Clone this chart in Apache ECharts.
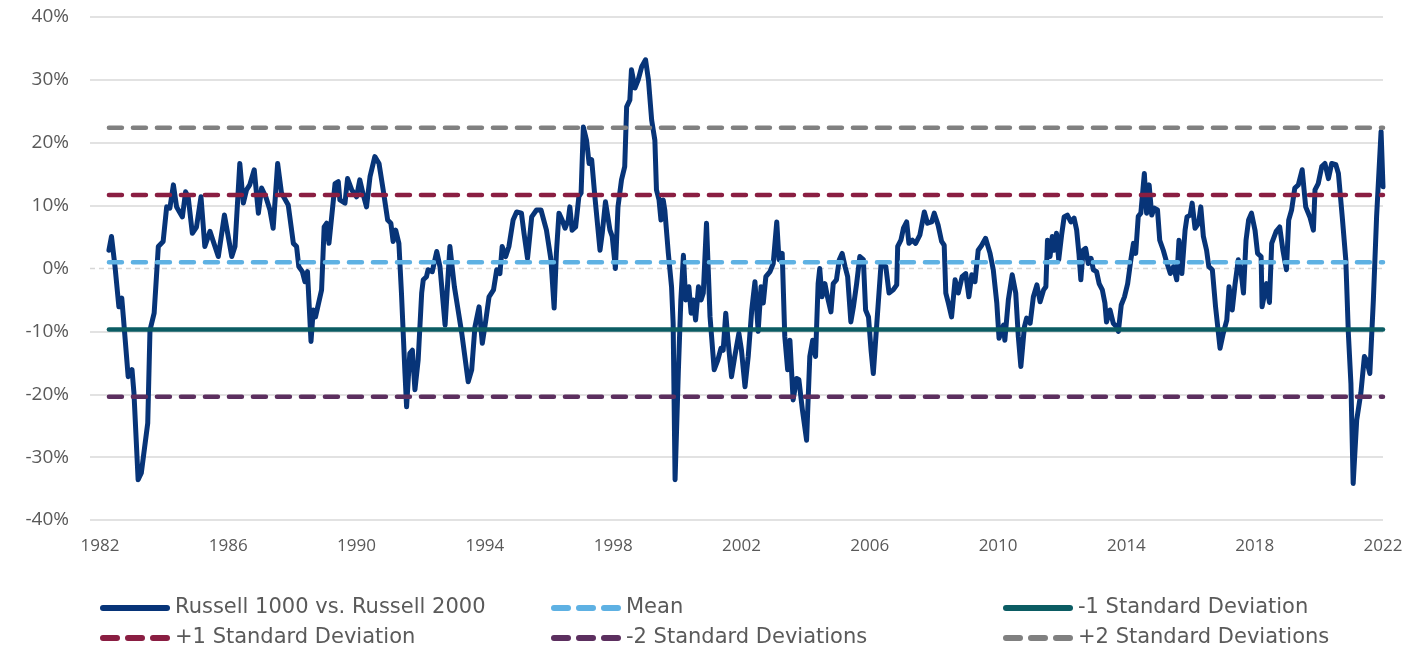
<!DOCTYPE html>
<html>
<head>
<meta charset="utf-8">
<script src="https://cdn.jsdelivr.net/npm/echarts@6/dist/echarts.min.js"></script>
<style>html,body{margin:0;padding:0;background:#fff}#c{width:1427px;height:649px}</style>
</head>
<body>
<div id="c"></div>
<script>
// Dates (decimal years) and relative performance values (%)
const dates = [
1982.28,1982.36,1982.47,1982.59,1982.68,1982.73,1982.88,1983.0,1983.06,1983.19,1983.29,1983.49,1983.56,1983.69,1983.82,1983.97,
1984.08,1984.18,1984.29,1984.39,1984.57,1984.67,1984.75,1984.88,1985.01,1985.15,1985.27,1985.43,1985.69,1985.88,
1986.11,1986.21,1986.36,1986.47,1986.57,1986.67,1986.81,1986.94,1987.04,1987.17,1987.3,1987.4,1987.54,1987.66,1987.87,
1988.03,1988.13,1988.2,1988.31,1988.39,1988.47,1988.58,1988.65,1988.72,1988.91,1988.99,1989.07,1989.14,1989.33,1989.43,1989.48,1989.64,1989.72,1989.85,
1990.0,1990.1,1990.21,1990.31,1990.42,1990.57,1990.7,1990.83,1990.97,1991.07,1991.14,1991.22,1991.32,1991.4,1991.51,1991.56,1991.66,1991.74,1991.82,1991.92,
1992.03,1992.08,1992.18,1992.23,1992.36,1992.5,1992.6,1992.76,1992.91,1993.05,1993.15,1993.28,1993.48,1993.59,1993.69,1993.82,1993.92,
1994.03,1994.13,1994.27,1994.37,1994.47,1994.54,1994.65,1994.75,1994.88,1994.99,1995.14,1995.22,1995.33,1995.46,1995.61,1995.75,1995.92,
1996.06,1996.16,1996.23,1996.31,1996.41,1996.5,1996.6,1996.65,1996.72,1996.83,1996.93,1997.0,1997.07,1997.17,1997.25,1997.33,1997.43,1997.59,1997.66,1997.76,1997.9,1997.97,
1998.07,1998.15,1998.26,1998.36,1998.42,1998.52,1998.57,1998.68,1998.78,1998.89,1999.01,1999.1,1999.2,1999.3,1999.35,1999.43,1999.49,1999.56,1999.61,1999.72,1999.82,1999.87,1999.93,
2000.03,2000.11,2000.19,2000.26,2000.36,2000.43,2000.5,2000.57,2000.66,2000.74,2000.81,2000.91,2001.02,2001.15,2001.26,2001.36,2001.43,2001.51,2001.58,2001.69,2001.79,2001.92,
2002.0,2002.11,2002.21,2002.32,2002.42,2002.52,2002.61,2002.68,2002.76,2002.89,2002.99,2003.1,2003.17,2003.27,2003.35,2003.44,2003.51,2003.61,2003.72,2003.79,2003.9,
2004.03,2004.13,2004.22,2004.31,2004.39,2004.44,2004.51,2004.6,2004.68,2004.79,2004.86,2004.96,2005.05,2005.14,2005.23,2005.31,2005.41,2005.49,2005.59,2005.69,2005.8,2005.87,2005.96,
2006.04,2006.11,2006.22,2006.35,2006.5,2006.6,2006.73,2006.84,2006.87,2006.97,2007.05,2007.15,2007.22,2007.33,2007.43,2007.56,2007.7,2007.8,2007.93,
2008.01,2008.13,2008.24,2008.32,2008.37,2008.45,2008.55,2008.66,2008.76,2008.88,2008.99,2009.09,2009.18,2009.28,2009.38,2009.49,2009.61,2009.75,2009.85,2009.96,
2010.03,2010.17,2010.21,2010.32,2010.44,2010.55,2010.63,2010.71,2010.82,2010.89,2011.0,2011.1,2011.21,2011.31,2011.42,2011.49,2011.54,2011.62,2011.69,2011.75,2011.82,2011.89,2011.98,
2012.06,2012.16,2012.27,2012.37,2012.45,2012.52,2012.58,2012.65,2012.73,2012.81,2012.9,2012.97,2013.07,2013.15,2013.25,2013.33,2013.38,2013.49,2013.59,2013.7,2013.75,2013.84,2013.94,
2014.04,2014.14,2014.22,2014.29,2014.37,2014.45,2014.56,2014.63,2014.71,2014.79,2014.87,2014.97,2015.04,2015.15,2015.25,2015.37,2015.47,2015.57,2015.64,2015.73,2015.83,2015.89,2015.99,
2016.05,2016.14,2016.25,2016.32,2016.4,2016.5,2016.57,2016.68,2016.78,2016.92,2017.02,2017.13,2017.2,2017.3,2017.39,2017.49,2017.58,2017.65,2017.73,2017.81,2017.9,
2018.01,2018.09,2018.2,2018.23,2018.37,2018.46,2018.53,2018.67,2018.78,2018.88,2018.99,2019.06,2019.15,2019.25,2019.36,2019.48,2019.59,2019.72,2019.83,2019.88,2019.98,
2020.09,2020.19,2020.3,2020.4,2020.53,2020.61,2020.73,2020.84,2020.92,2021.0,2021.07,2021.18,2021.31,2021.42,2021.49,2021.59,2021.7,2021.8,2021.94,2022.0
];
const values = [
2.9,5.1,0.3,-6.1,-4.7,-7.7,-17.2,-16.1,-19.8,-33.6,-32.5,-24.6,-9.8,-7.1,3.5,4.3,
9.8,9.6,13.3,9.8,8.2,12.2,11.4,5.6,6.6,11.4,3.5,5.9,1.9,8.5,
1.9,3.5,16.7,10.4,12.5,13.3,15.7,8.8,12.8,11.4,9.3,6.4,16.7,12.0,10.1,
4.0,3.5,0.3,-0.5,-2.1,-0.5,-11.6,-6.6,-7.7,-3.4,6.6,7.2,4.0,13.5,13.8,10.9,10.4,14.3,12.5,
11.4,14.1,11.7,9.8,14.6,17.8,16.7,12.5,7.7,7.2,4.3,6.1,4.0,-3.9,-16.7,-22.0,-13.5,-13.0,-19.3,-14.6,
-3.9,-1.8,-1.3,-0.2,-0.5,2.7,0.3,-9.0,3.5,-2.9,-6.1,-10.3,-18.0,-16.1,-9.3,-6.1,-11.9,
-8.2,-4.5,-3.4,-0.2,-0.8,3.5,1.9,3.5,7.7,9.0,8.8,5.6,1.6,8.2,9.3,9.3,6.1,
1.4,-6.3,2.4,8.8,7.7,6.4,7.7,9.8,6.1,6.6,11.4,12.0,22.5,20.4,16.7,17.3,11.4,2.9,5.6,10.6,6.1,5.1,
0.0,9.8,14.1,16.2,25.7,26.8,31.6,28.7,30.0,32.1,33.2,30.0,23.6,20.4,12.5,10.9,7.7,10.9,9.3,2.4,-2.9,-8.7,-33.6,
-16.7,-5.0,2.1,-5.0,-2.9,-7.1,-5.0,-8.2,-2.9,-5.0,-3.9,7.2,-7.7,-16.1,-14.6,-12.7,-13.0,-7.1,-11.4,-17.2,-14.0,-10.3,
-13.0,-18.8,-14.0,-6.6,-2.1,-10.0,-2.9,-5.5,-1.3,-0.5,0.8,7.4,1.4,2.4,-10.8,-16.1,-11.4,-20.9,-17.5,-17.7,-22.5,
-27.3,-14.0,-11.4,-14.0,-2.4,0.0,-4.5,-2.4,-4.5,-6.9,-2.4,-1.8,1.4,2.4,0.3,-1.3,-8.5,-6.1,-2.4,1.9,1.4,-6.6,-7.7,
-13.0,-16.7,-8.7,0.6,0.3,-3.9,-3.4,-2.6,3.5,4.5,6.4,7.4,4.0,4.5,4.0,5.3,9.0,7.2,7.4,
8.8,6.9,4.3,3.7,-3.9,-5.5,-7.7,-1.8,-3.9,-1.3,-0.8,-4.5,-1.0,-2.1,2.9,3.7,4.8,2.4,-0.2,-5.5,
-11.1,-9.0,-11.4,-5.0,-1.0,-3.9,-10.8,-15.6,-9.3,-7.9,-8.7,-4.5,-2.6,-5.3,-3.4,-2.9,4.5,1.9,5.1,2.9,5.6,1.4,5.3,
8.2,8.5,7.4,8.0,6.1,2.4,-1.8,2.9,3.2,0.8,1.6,-0.2,-0.5,-2.4,-3.4,-5.5,-8.5,-6.6,-8.7,-9.3,-10.0,-5.8,-4.5,
-2.4,1.4,4.0,2.4,8.3,8.8,15.1,8.8,13.3,8.5,9.6,9.3,4.5,2.9,1.1,-0.8,0.3,-1.8,4.5,-0.8,6.1,8.2,8.5,
10.4,6.4,7.2,9.8,5.1,2.9,0.3,-0.2,-6.1,-12.7,-10.3,-8.2,-2.9,-6.6,-2.4,1.4,-0.8,-3.9,4.5,7.7,8.8,
6.1,2.4,1.9,-6.1,-2.4,-5.4,4.0,5.9,6.6,2.9,-0.2,7.7,9.3,12.8,13.3,15.7,9.8,8.2,6.1,12.5,13.5,
16.2,16.7,14.3,16.7,16.5,15.1,8.2,1.4,-10.3,-18.3,-34.2,-24.1,-19.8,-14.0,-14.6,-16.7,-5.0,8.2,21.8,13.0
];
const mainName = 'Russell 1000 vs. Russell 2000';
const refNames = ['Mean','+1 Standard Deviation','-1 Standard Deviation','+2 Standard Deviations','-2 Standard Deviations'];
const refValues = [1.0, 11.7, -9.7, 22.4, -20.4];
const refColors = ['#5eb1e3','#8a1e42','#0b5c63','#808080','#5c2f5f'];
const refDashed = [true, true, false, true, true];
const xTicks = [1982,1986,1990,1994,1998,2002,2006,2010,2014,2018,2022];
const startYear = 1982.28, endYear = 2022.0;

const FONT = 'Open Sans';
const LFONT = 'DejaVu Sans';
const chart = echarts.init(document.getElementById('c'), null, {renderer:'canvas'});
const mainData = dates.map((d,i)=>[d, values[i]]);
const series = [{
  name: 'zero', type: 'line', silent: true, symbol: 'none',
  data: [[1981.69,0],[2022,0]],
  lineStyle: {color:'#d6d6d6', width:1.5, type:[5,4]}, z: 1
},{
  name: mainName, type: 'line', symbol: 'none',
  data: mainData,
  lineStyle: {color:'#073478', width:5, join:'round', cap:'round'},
  itemStyle: {color:'#073478'}, z: 2
}];
refNames.forEach((n,i)=>{
  series.push({
    name: n, type: 'line', symbol: 'none', z: 3,
    data: [[startYear, refValues[i]], [endYear, refValues[i]]],
    lineStyle: {color: refColors[i], width: 4.5, type: refDashed[i] ? [13,11] : 'solid', cap: 'round'},
    itemStyle: {color: refColors[i]}
  });
});
const SOLID_ICON = 'path://M3,0H67A3,3,0,0,1,67,6H3A3,3,0,0,1,3,0Z';
const DASH_ICON = 'path://M3,0H17A3,3,0,0,1,17,6H3A3,3,0,0,1,3,0Z M28,0H42A3,3,0,0,1,42,6H28A3,3,0,0,1,28,0Z M53,0H67A3,3,0,0,1,67,6H53A3,3,0,0,1,53,0Z';
const legendText = {fontFamily: LFONT, fontSize: 21, color: '#5a5a5a', lineHeight: 22};
function mkLegend(left, top, name, dashed){
  return {left: left, top: top, orient: 'horizontal', itemWidth: 70, itemHeight: 6, itemGap: 0,
    data: [{name: name, icon: dashed ? DASH_ICON : SOLID_ICON}], textStyle: legendText, selectedMode: false};
}
function isDashed(n){ const i = refNames.indexOf(n); return i >= 0 ? refDashed[i] : false; }
const legendLayout = [
  [95, 592, mainName], [546, 592, 'Mean'], [998, 592, '-1 Standard Deviation'],
  [95, 622, '+1 Standard Deviation'], [546, 622, '-2 Standard Deviations'], [998, 622, '+2 Standard Deviations']
];
chart.setOption({
  animation: false,
  grid: {left: 90, right: 44, top: 17, bottom: 129, containLabel: false},
  xAxis: {
    type: 'value', min: 1981.69, max: 2022,
    axisLine: {show:false}, axisTick: {show:false}, splitLine: {show:false},
    axisLabel: {customValues: xTicks, fontFamily: FONT, fontSize: 17, color: '#595959', margin: 18,
      formatter: v => String(Math.round(v))}
  },
  yAxis: {
    type: 'value', min: -40, max: 40, interval: 10,
    axisLine: {show:false}, axisTick: {show:false},
    axisLabel: {formatter: '{value}%', fontFamily: FONT, fontSize: 19, color: '#595959', margin: 21},
    splitLine: {show:true, lineStyle: {color: ['#d9d9d9','#d9d9d9','#d9d9d9','#d9d9d9','rgba(0,0,0,0)','#d9d9d9','#d9d9d9','#d9d9d9','#d9d9d9'], width: 1.5}}
  },
  legend: legendLayout.map(l => mkLegend(l[0], l[1], l[2], isDashed(l[2]))),
  series: series
});
</script>
</body>
</html>
